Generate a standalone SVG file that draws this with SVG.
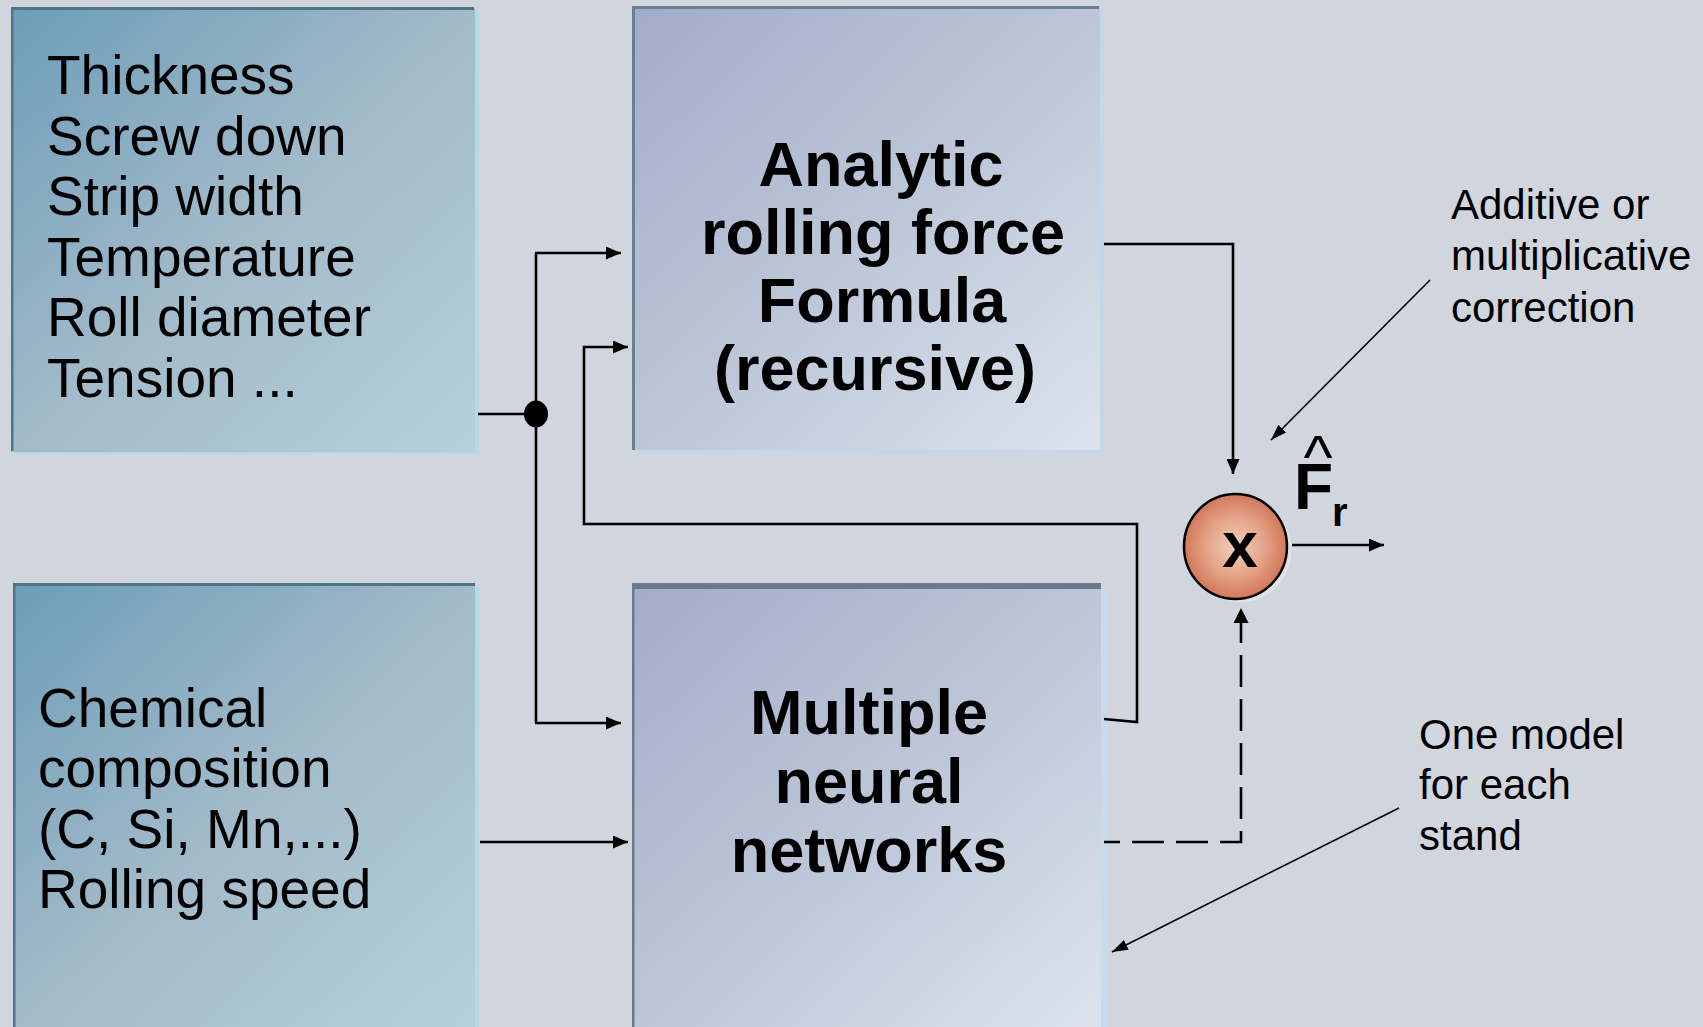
<svg xmlns="http://www.w3.org/2000/svg" width="1703" height="1027" viewBox="0 0 1703 1027">
<defs>
<linearGradient id="gIn" x1="0" y1="0" x2="1" y2="1">
<stop offset="0" stop-color="#6c9db9"/>
<stop offset="0.5" stop-color="#a2bac9"/>
<stop offset="1" stop-color="#b6d0dc"/>
</linearGradient>
<linearGradient id="gMod" x1="0" y1="0" x2="1" y2="1">
<stop offset="0" stop-color="#a2acc9"/>
<stop offset="0.5" stop-color="#bcc6d8"/>
<stop offset="1" stop-color="#dce3ec"/>
</linearGradient>
<radialGradient id="gCirc" cx="0.5" cy="0.5" r="0.5">
<stop offset="0" stop-color="#f4d0bd"/>
<stop offset="0.6" stop-color="#e3a084"/>
<stop offset="1" stop-color="#d2775a"/>
</radialGradient>
<marker id="ah" viewBox="0 0 15 13" refX="15" refY="6.5" markerWidth="15" markerHeight="13" markerUnits="userSpaceOnUse" orient="auto">
<path d="M0,0 L15,6.5 L0,13 z" fill="#000"/>
</marker>
<marker id="ahs" viewBox="0 0 16 11" refX="16" refY="5.5" markerWidth="16" markerHeight="11" markerUnits="userSpaceOnUse" orient="auto">
<path d="M0,0 L16,5.5 L0,11 z" fill="#000"/>
</marker>
<style>
.t{font-family:"Liberation Sans",Arial,sans-serif;fill:#000}
.in{font-size:55px}
.bd{font-size:63px;font-weight:bold;text-anchor:middle}
.an{font-size:42px}
.c{fill:none;stroke:#000;stroke-width:2.6}
.cs{fill:none;stroke:#000;stroke-width:1.6}
</style>
</defs>
<rect x="0" y="0" width="1703" height="1027" fill="#d1d5dd"/>

<g id="inputs-top">
<rect x="475" y="11" width="4" height="443" fill="#b3dbe6"/>
<rect x="14" y="451" width="465" height="3" fill="#b3dbe6"/>
<rect x="11" y="8" width="464" height="444" fill="url(#gIn)"/>
<rect x="11" y="7" width="463" height="3" fill="#4e7682"/>
<rect x="11" y="7" width="2.5" height="444" fill="#4e7682"/>
<text class="t in" x="47" y="94">Thickness</text>
<text class="t in" x="47" y="155">Screw down</text>
<text class="t in" x="47" y="215">Strip width</text>
<text class="t in" x="47" y="276">Temperature</text>
<text class="t in" x="47" y="336">Roll diameter</text>
<text class="t in" x="47" y="397">Tension ...</text>
</g>

<g id="inputs-bottom">
<rect x="475" y="587" width="4" height="440" fill="#b3dbe6"/>
<rect x="13" y="584" width="462" height="443" fill="url(#gIn)"/>
<rect x="13" y="583" width="462" height="3" fill="#4e7682"/>
<rect x="13" y="583" width="2.5" height="444" fill="#4e7682"/>
<text class="t in" x="38" y="727">Chemical</text>
<text class="t in" x="38" y="787">composition</text>
<text class="t in" x="38" y="848">(C, Si, Mn,...)</text>
<text class="t in" x="38" y="908">Rolling speed</text>
</g>

<g id="analytic">
<rect x="1100" y="10" width="4" height="443" fill="#c6d6e8"/>
<rect x="635" y="450" width="469" height="3" fill="#c6d6e8"/>
<rect x="632" y="7" width="468" height="443" fill="url(#gMod)"/>
<rect x="632" y="6" width="467" height="3" fill="#6c7e92"/>
<rect x="632" y="6" width="3" height="444" fill="#6c7e92"/>
<text class="t bd" x="881" y="186">Analytic</text>
<text class="t bd" x="883" y="254">rolling force</text>
<text class="t bd" x="882" y="322">Formula</text>
<text class="t bd" x="875" y="390">(recursive)</text>
</g>

<g id="neural">
<rect x="1101" y="590" width="6" height="437" fill="#c9daea"/>
<rect x="632" y="584" width="469" height="443" fill="url(#gMod)"/>
<rect x="632" y="583" width="469" height="6" fill="#6a7a8b"/>
<rect x="632" y="583" width="2.5" height="444" fill="#6a7a8b"/>
<text class="t bd" x="869" y="734">Multiple</text>
<text class="t bd" x="869" y="803">neural</text>
<text class="t bd" x="869" y="872">networks</text>
</g>

<g id="multiplier">
<ellipse cx="1240" cy="550" rx="51.5" ry="52.5" fill="#e2e2e3"/>
<ellipse cx="1235.5" cy="546.5" rx="51.5" ry="52.5" fill="url(#gCirc)" stroke="#000" stroke-width="2.5"/>
<text class="t" x="1240" y="567" font-size="64" font-weight="bold" text-anchor="middle">x</text>
</g>

<g id="output-label">
<text class="t" x="1318" y="478" font-size="62" text-anchor="middle">^</text>
<text class="t" x="1294" y="509" font-size="64" font-weight="bold">F</text>
<text class="t" x="1332" y="526" font-size="40" font-weight="bold">r</text>
</g>

<g id="annotations">
<text class="t an" x="1451" y="219">Additive or</text>
<text class="t an" x="1451" y="270">multiplicative</text>
<text class="t an" x="1451" y="322">correction</text>
<text class="t an" x="1419" y="749">One model</text>
<text class="t an" x="1419" y="799">for each</text>
<text class="t an" x="1419" y="850">stand</text>
</g>

<g id="connectors">
<path class="c" d="M478,414 L536,414"/>
<ellipse cx="536" cy="414" rx="12" ry="13.5" fill="#000"/>
<path class="c" d="M536,253 L536,723"/>
<path class="c" d="M535,253 L621,253" marker-end="url(#ah)"/>
<path class="c" d="M535,723 L621,723" marker-end="url(#ah)"/>
<path class="c" d="M1104,719 L1137,722 L1137,524 L584,524 L584,347 L628,347" marker-end="url(#ah)"/>
<path class="c" d="M1104,244 L1233,244 L1233,474" marker-end="url(#ah)"/>
<path class="c" d="M1292,545 L1384,545" marker-end="url(#ah)"/>
<path class="c" d="M1104,842 L1241,842 L1241,623" stroke-width="4" stroke-dasharray="32,12" stroke-dashoffset="16"/>
<path d="M1233.5,623 L1241,608 L1248.5,623 z" fill="#000"/>
<path class="c" d="M480,842 L628,842" marker-end="url(#ah)"/>
<path class="cs" d="M1430,280 L1271,440" marker-end="url(#ahs)"/>
<path class="cs" d="M1399,808 L1112,952" marker-end="url(#ahs)"/>
</g>
</svg>
